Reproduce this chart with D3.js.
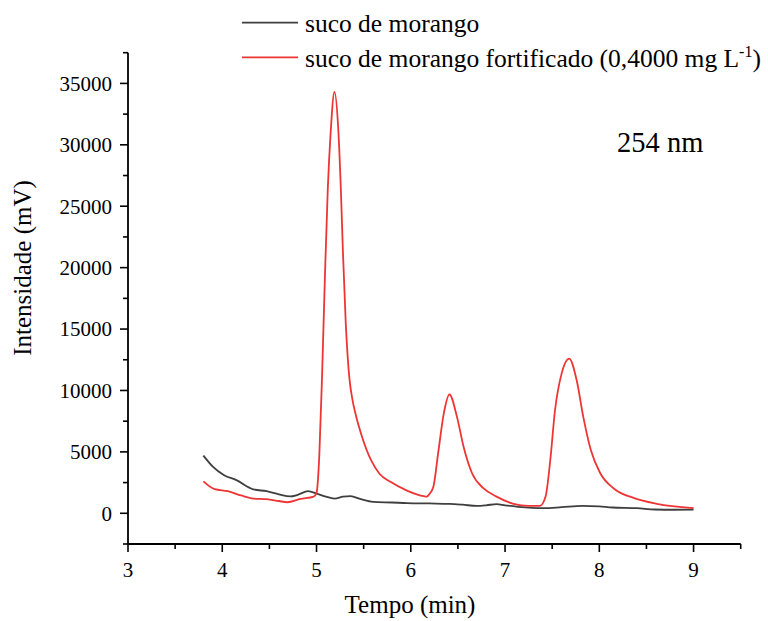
<!DOCTYPE html>
<html><head><meta charset="utf-8">
<script src="https://cdn.jsdelivr.net/npm/d3@7"></script>
<style>body{margin:0;background:#fff}svg{display:block}text{font-family:"Liberation Serif","Times New Roman",serif;fill:#000}</style>
</head><body><svg id="c" width="768" height="621"></svg>
<script>
const seriesNames = ["suco de morango", "suco de morango fortificado (0,4000 mg L"];
const timeBlack = [3.80,3.90,4.02,4.15,4.33,4.47,4.60,4.72,4.80,4.91,5.01,5.10,5.19,5.28,5.36,5.47,5.60,5.80,5.96,6.20,6.41,6.55,6.70,6.80,6.91,7.00,7.14,7.41,7.60,7.82,8.00,8.14,8.40,8.59,8.80,9.00];
const valBlack  = [4700,3800,3100,2700,1950,1800,1550,1370,1500,1800,1580,1350,1200,1350,1400,1150,930,880,830,800,770,700,600,650,750,650,530,420,500,610,560,470,420,310,290,300];
const timeRed = [3.80,3.92,4.06,4.20,4.33,4.47,4.60,4.69,4.83,4.97,5.00,5.03,5.06,5.09,5.12,5.15,5.19,5.23,5.26,5.28,5.31,5.33,5.35,5.38,5.42,5.48,5.58,5.67,5.78,5.96,6.14,6.17,6.19,6.24,6.29,6.35,6.41,6.49,6.56,6.65,6.77,6.91,7.09,7.25,7.37,7.43,7.48,7.53,7.60,7.68,7.76,7.83,7.91,8.01,8.15,8.37,8.61,9.00];
const valRed  = [2600,1960,1800,1450,1200,1150,1000,900,1170,1360,1660,4800,11500,19500,26500,31000,34300,31370,25970,21300,15500,12800,10900,9300,7900,6300,4300,3200,2580,1850,1390,1360,1500,2170,4880,8120,9670,7850,5420,3260,2040,1360,770,600,600,1360,4340,8390,11370,12600,10830,7850,5150,3260,2040,1230,770,420];
const xTicks = [3,4,5,6,7,8,9];
const yTicks = [0,5000,10000,15000,20000,25000,30000,35000];
const colors = ["#3f3f3f","#ee3535"];

const svg = d3.select("#c");
const x = d3.scaleLinear().domain([3,9.5]).range([128,740.7]);
const y = d3.scaleLinear().domain([-2500,37500]).range([544,52.7]);

// axes
const xAxis = svg.append("g").attr("transform","translate(0,544)");
xAxis.append("line").attr("x1",x(3)).attr("x2",x(9.5)).attr("stroke","#000").attr("stroke-width",1.8);
d3.range(3,9.51,0.5).forEach(v=>{
  const major = Math.abs(v-Math.round(v))<1e-6;
  xAxis.append("line").attr("x1",x(v)).attr("x2",x(v)).attr("y1",0).attr("y2",major?8:5).attr("stroke","#000").attr("stroke-width",1.6);
});
xTicks.forEach(v=>xAxis.append("text").attr("x",x(v)).attr("y",33).attr("text-anchor","middle").style("font-size","21px").text(v));

const yAxis = svg.append("g").attr("transform","translate(128,0)");
yAxis.append("line").attr("y1",y(-2500)).attr("y2",y(37500)).attr("stroke","#000").attr("stroke-width",1.8);
d3.range(-2500,37501,2500).forEach(v=>{
  const major = v%5000===0;
  yAxis.append("line").attr("x1",0).attr("x2",major?-8:-5).attr("y1",y(v)).attr("y2",y(v)).attr("stroke","#000").attr("stroke-width",1.6);
});
yTicks.forEach(v=>yAxis.append("text").attr("x",-16).attr("y",y(v)).attr("dy","0.35em").attr("text-anchor","end").style("font-size","21px").text(v));

svg.append("text").attr("x",410).attr("y",613).attr("text-anchor","middle").style("font-size","25px").text("Tempo (min)");
svg.append("text").attr("transform","translate(31,268) rotate(-90)").attr("text-anchor","middle").style("font-size","25px").text("Intensidade (mV)");

// lines
const line = d3.line().x(d=>x(d[0])).y(d=>y(d[1])).curve(d3.curveMonotoneX);
const black = timeBlack.map((t,i)=>[t,valBlack[i]]);
const red = timeRed.map((t,i)=>[t,valRed[i]]);
svg.append("path").datum(black).attr("d",line).attr("fill","none").attr("stroke",colors[0]).attr("stroke-width",1.8);
svg.append("path").datum(red).attr("d",line).attr("fill","none").attr("stroke",colors[1]).attr("stroke-width",1.8);

// legend
const lg = svg.append("g");
[22.7,57.3].forEach((ly,i)=>{
  lg.append("line").attr("x1",242).attr("x2",298).attr("y1",ly).attr("y2",ly).attr("stroke",colors[i]).attr("stroke-width",1.8);
});
lg.append("text").attr("x",305).attr("y",31.5).style("font-size","25.5px").text(seriesNames[0]);
const t2 = lg.append("text").attr("x",305).attr("y",66.5).style("font-size","25.5px");
t2.append("tspan").text(seriesNames[1]);
t2.append("tspan").attr("dy",-10).style("font-size","16px").text("-1");
t2.append("tspan").attr("dy",10).text(")");

svg.append("text").attr("x",617).attr("y",152).style("font-size","28.5px").text("254 nm");
</script></body></html>
